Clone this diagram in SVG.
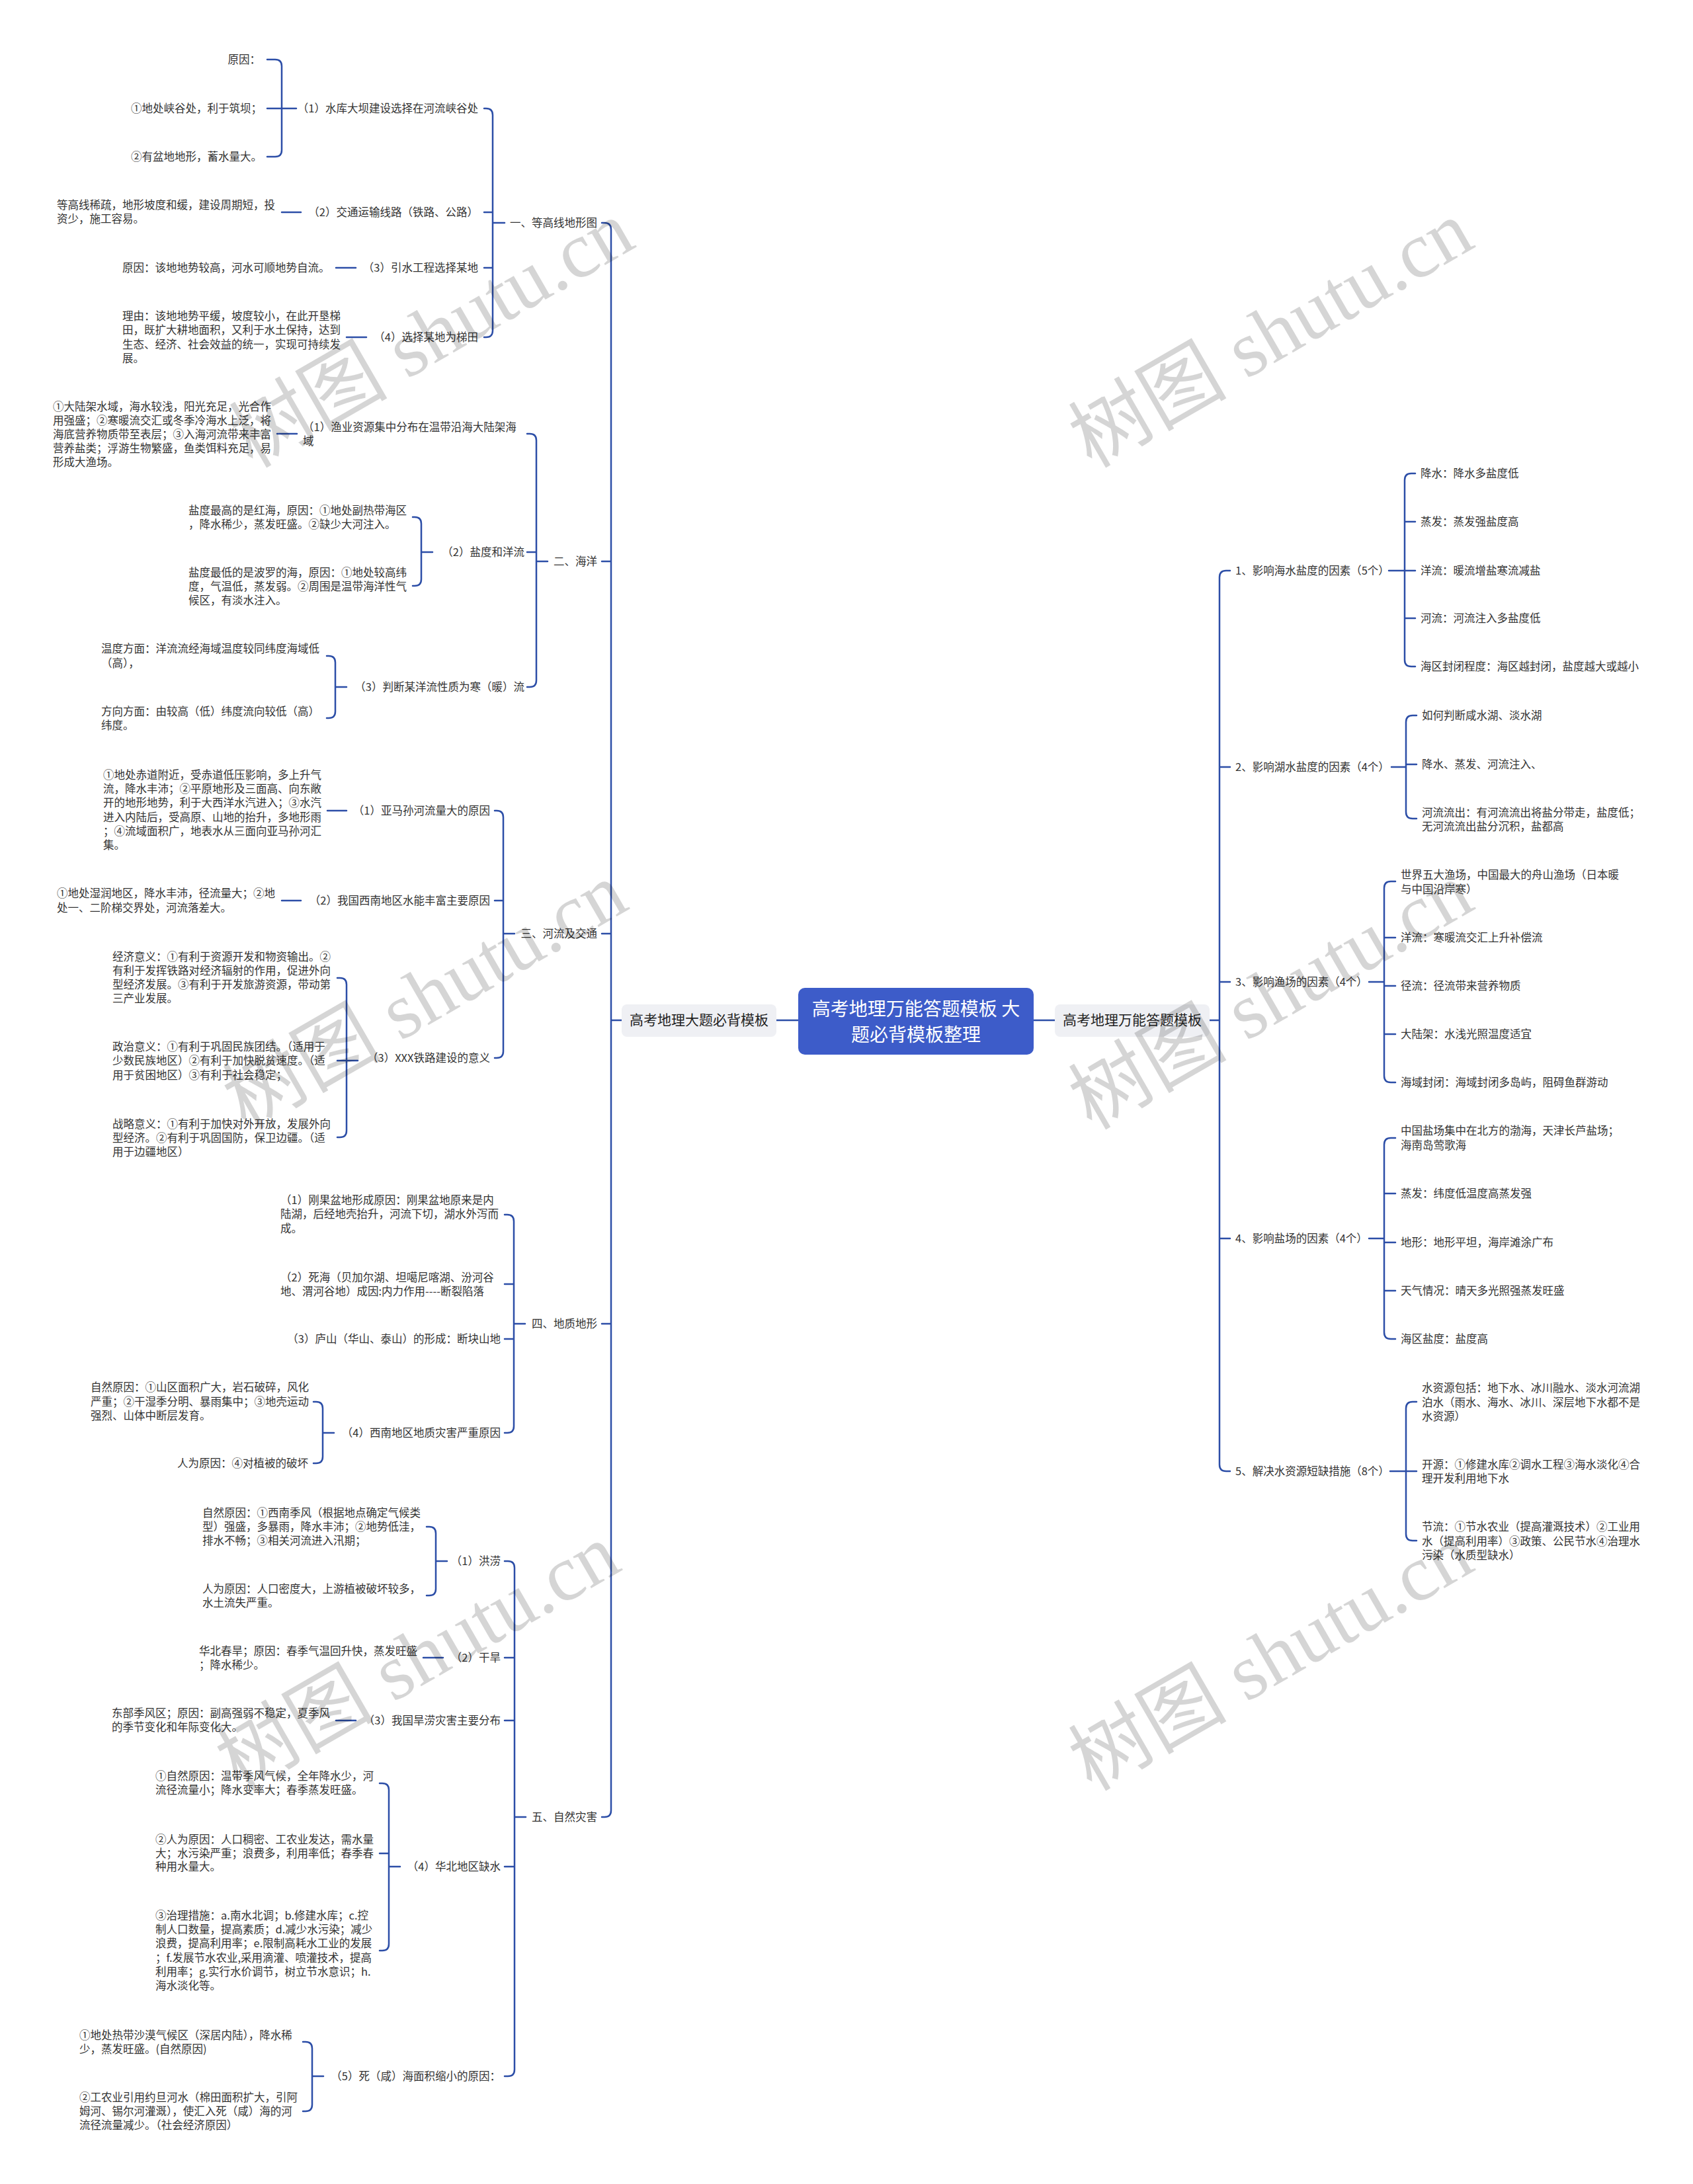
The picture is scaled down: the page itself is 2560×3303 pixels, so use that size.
<svg xmlns="http://www.w3.org/2000/svg" width="2560" height="3303" viewBox="0 0 2560 3303">
<style>
.t{font-family:"Noto Sans CJK SC","Liberation Sans",sans-serif;font-size:16.5px;fill:#333}
.e{text-anchor:end}
.l1{font-family:"Noto Sans CJK SC","Liberation Sans",sans-serif;font-size:21px;fill:#222;text-anchor:middle}
.ct{font-family:"Noto Sans CJK SC","Liberation Sans",sans-serif;font-size:28px;fill:#fff;text-anchor:middle}
.c{stroke:#2c4ea7;stroke-width:2.5;fill:none;stroke-linecap:round}
.wm{font-family:"Liberation Serif","Noto Sans CJK SC",serif;font-size:120px;fill:#000;opacity:0.16}
</style>
<rect width="2560" height="3303" fill="#fff"/>

<g id="connectors">
<!-- center to L1 -->
<path class="c" d="M1174,1543 H1207 M1563,1543 H1595"/>
<!-- main left trunk -->
<path class="c" d="M910,337 H914 Q924,337 924,347 V2738 Q924,2748 914,2748 H910 M910,849 H924 M910,1412 H924 M910,2002 H924 M924,1543 H940"/>
<!-- sec 1 -->
<path class="c" d="M732,164 H735 Q745,164 745,174 V500 Q745,510 735,510 H732 M732,321 H745 M732,405 H745 M745,337 H763"/>
<path class="c" d="M404,90 H416 Q426,90 426,100 V227 Q426,237 416,237 H404 M404,164 H448"/>
<path class="c" d="M426,321 H455 M508,405 H538 M524,510 H554"/>
<!-- sec 2 -->
<path class="c" d="M797,656 H801 Q811,656 811,666 V1029 Q811,1039 801,1039 H797 M797,835 H811 M811,849 H828"/>
<path class="c" d="M419,656 H449"/>
<path class="c" d="M624,782 H627 Q637,782 637,792 V876 Q637,886 627,886 H624 M637,835 H654"/>
<path class="c" d="M494,992 H497 Q507,992 507,1002 V1076 Q507,1086 497,1086 H494 M507,1039 H524"/>
<!-- sec 3 -->
<path class="c" d="M748,1226 H751 Q761,1226 761,1236 V1590 Q761,1600 751,1600 H748 M748,1362 H761 M761,1412 H778"/>
<path class="c" d="M495,1226 H524 M426,1362 H455"/>
<path class="c" d="M510,1479 H514 Q524,1479 524,1489 V1710 Q524,1720 514,1720 H510 M510,1604 H541"/>
<!-- sec 4 -->
<path class="c" d="M763,1837 H767 Q777,1837 777,1847 V2157 Q777,2167 767,2167 H763 M763,1942 H777 M763,2025 H777 M777,2002 H794"/>
<path class="c" d="M474,2120 H478 Q488,2120 488,2130 V2203 Q488,2213 478,2213 H474 M488,2167 H505"/>
<!-- sec 5 -->
<path class="c" d="M763,2361 H768 Q778,2361 778,2371 V3130 Q778,3140 768,3140 H763 M763,2507 H778 M763,2602 H778 M763,2823 H778 M778,2748 H795"/>
<path class="c" d="M645,2309 H649 Q659,2309 659,2319 V2403 Q659,2413 649,2413 H645 M659,2361 H676"/>
<path class="c" d="M640,2507 H670 M508,2602 H538"/>
<path class="c" d="M574,2697 H578 Q588,2697 588,2707 V2940 Q588,2950 578,2950 H574 M574,2803 H588 M588,2823 H605"/>
<path class="c" d="M458,3088 H462 Q472,3088 472,3098 V3183 Q472,3193 462,3193 H458 M472,3140 H489"/>
<!-- right main trunk -->
<path class="c" d="M1860,863 H1854 Q1844,863 1844,873 V2215 Q1844,2225 1854,2225 H1860 M1860,1160 H1844 M1860,1485 H1844 M1860,1873 H1844 M1829,1543 H1844"/>
<path class="c" d="M2140,716 H2134 Q2124,716 2124,726 V998 Q2124,1008 2134,1008 H2140 M2140,789 H2124 M2140,863 H2124 M2140,935 H2124 M2100,863 H2124"/>
<path class="c" d="M2142,1082 H2136 Q2126,1082 2126,1092 V1228 Q2126,1238 2136,1238 H2142 M2142,1156 H2126 M2104,1160 H2126"/>
<path class="c" d="M2110,1333 H2103 Q2093,1333 2093,1343 V1627 Q2093,1637 2103,1637 H2110 M2110,1418 H2093 M2110,1491 H2093 M2110,1564 H2093 M2070,1485 H2093"/>
<path class="c" d="M2110,1721 H2103 Q2093,1721 2093,1731 V2015 Q2093,2025 2103,2025 H2110 M2110,1805 H2093 M2110,1879 H2093 M2110,1952 H2093 M2070,1873 H2093"/>
<path class="c" d="M2142,2120 H2136 Q2126,2120 2126,2130 V2320 Q2126,2330 2136,2330 H2142 M2142,2225 H2126 M2102,2225 H2126"/>
</g>

<g id="center">
<rect x="1207" y="1494" width="356" height="101" rx="10" fill="#3d5cc9"/>
<text class="ct" x="1385" y="1536">高考地理万能答题模板 大</text>
<text class="ct" x="1385" y="1575">题必背模板整理</text>
</g>
<g id="L1-left">
<rect x="940" y="1519" width="234" height="49" rx="8" fill="#eff0f4"/>
<text class="l1" x="1057" y="1550">高考地理大题必背模板</text>
</g>
<g id="L1-right">
<rect x="1595" y="1519" width="234" height="49" rx="8" fill="#eff0f4"/>
<text class="l1" x="1712" y="1550">高考地理万能答题模板</text>
</g>

<!-- section 1 -->
<g id="n1"><text class="t e" x="903" y="343">一、等高线地形图</text></g>
<g id="n1-1"><text class="t e" x="723" y="170">（1）水库大坝建设选择在河流峡谷处</text></g>
<g id="n1-1a"><text class="t e" x="394" y="96">原因：</text></g>
<g id="n1-1b"><text class="t e" x="396" y="170">①地处峡谷处，利于筑坝；</text></g>
<g id="n1-1c"><text class="t e" x="396" y="243">②有盆地地形，蓄水量大。</text></g>
<g id="n1-2"><text class="t e" x="723" y="327">（2）交通运输线路（铁路、公路）</text></g>
<g id="n1-2a"><text class="t" x="86" y="316">等高线稀疏，地形坡度和缓，建设周期短，投<tspan x="86" dy="21">资少，施工容易。</tspan></text></g>
<g id="n1-3"><text class="t e" x="723" y="411">（3）引水工程选择某地</text></g>
<g id="n1-3a"><text class="t" x="185" y="411">原因：该地地势较高，河水可顺地势自流。</text></g>
<g id="n1-4"><text class="t e" x="723" y="516">（4）选择某地为梯田</text></g>
<g id="n1-4a"><text class="t" x="185" y="484">理由：该地地势平缓，坡度较小，在此开垦梯<tspan x="185" dy="21.3">田，既扩大耕地面积，又利于水土保持，达到</tspan><tspan x="185" dy="21.3">生态、经济、社会效益的统一，实现可持续发</tspan><tspan x="185" dy="21.3">展。</tspan></text></g>

<!-- section 2 -->
<g id="n2"><text class="t e" x="903" y="855">二、海洋</text></g>
<g id="n2-1"><text class="t" x="458" y="652">（1）渔业资源集中分布在温带沿海大陆架海<tspan x="458" dy="21">域</tspan></text></g>
<g id="n2-1a"><text class="t" x="80" y="621">①大陆架水域，海水较浅，阳光充足，光合作<tspan x="80" dy="21.1">用强盛；②寒暖流交汇或冬季冷海水上泛，将</tspan><tspan x="80" dy="21.1">海底营养物质带至表层；③入海河流带来丰富</tspan><tspan x="80" dy="21.1">营养盐类；浮游生物繁盛，鱼类饵料充足，易</tspan><tspan x="80" dy="21.1">形成大渔场。</tspan></text></g>
<g id="n2-2"><text class="t e" x="793" y="841">（2）盐度和洋流</text></g>
<g id="n2-2a"><text class="t" x="285" y="778">盐度最高的是红海，原因：①地处副热带海区<tspan x="285" dy="21">，降水稀少，蒸发旺盛。②缺少大河注入。</tspan></text></g>
<g id="n2-2b"><text class="t" x="285" y="872">盐度最低的是波罗的海，原因：①地处较高纬<tspan x="285" dy="21">度，气温低，蒸发弱。②周围是温带海洋性气</tspan><tspan x="285" dy="21">候区，有淡水注入。</tspan></text></g>
<g id="n2-3"><text class="t e" x="793" y="1045">（3）判断某洋流性质为寒（暖）流</text></g>
<g id="n2-3a"><text class="t" x="153" y="987">温度方面：洋流流经海域温度较同纬度海域低<tspan x="153" dy="21.5">（高），</tspan></text></g>
<g id="n2-3b"><text class="t" x="153" y="1082">方向方面：由较高（低）纬度流向较低（高）<tspan x="153" dy="21">纬度。</tspan></text></g>

<!-- section 3 -->
<g id="n3"><text class="t e" x="903" y="1418">三、河流及交通</text></g>
<g id="n3-1"><text class="t e" x="741" y="1232">（1）亚马孙河流量大的原因</text></g>
<g id="n3-1a"><text class="t" x="156" y="1178">①地处赤道附近，受赤道低压影响，多上升气<tspan x="156" dy="21.2">流，降水丰沛；②平原地形及三面高、向东敞</tspan><tspan x="156" dy="21.2">开的地形地势，利于大西洋水汽进入；③水汽</tspan><tspan x="156" dy="21.2">进入内陆后，受高原、山地的抬升，多地形雨</tspan><tspan x="156" dy="21.2">；④流域面积广，地表水从三面向亚马孙河汇</tspan><tspan x="156" dy="21.2">集。</tspan></text></g>
<g id="n3-2"><text class="t e" x="741" y="1368">（2）我国西南地区水能丰富主要原因</text></g>
<g id="n3-2a"><text class="t" x="86" y="1357">①地处湿润地区，降水丰沛，径流量大；②地<tspan x="86" dy="21.5">处一、二阶梯交界处，河流落差大。</tspan></text></g>
<g id="n3-3"><text class="t e" x="741" y="1606">（3）XXX铁路建设的意义</text></g>
<g id="n3-3a"><text class="t" x="170" y="1453">经济意义：①有利于资源开发和物资输出。②<tspan x="170" dy="21">有利于发挥铁路对经济辐射的作用，促进外向</tspan><tspan x="170" dy="21">型经济发展。③有利于开发旅游资源，带动第</tspan><tspan x="170" dy="21">三产业发展。</tspan></text></g>
<g id="n3-3b"><text class="t" x="170" y="1589">政治意义：①有利于巩固民族团结。（适用于<tspan x="170" dy="21.3">少数民族地区）②有利于加快脱贫速度。（适</tspan><tspan x="170" dy="21.3">用于贫困地区）③有利于社会稳定；</tspan></text></g>
<g id="n3-3c"><text class="t" x="170" y="1706">战略意义：①有利于加快对外开放，发展外向<tspan x="170" dy="21">型经济。②有利于巩固国防，保卫边疆。（适</tspan><tspan x="170" dy="21">用于边疆地区）</tspan></text></g>

<!-- section 4 -->
<g id="n4"><text class="t e" x="903" y="2008">四、地质地形</text></g>
<g id="n4-1"><text class="t" x="424" y="1821">（1）刚果盆地形成原因：刚果盆地原来是内<tspan x="424" dy="21.3">陆湖，后经地壳抬升，河流下切，湖水外泻而</tspan><tspan x="424" dy="21.3">成。</tspan></text></g>
<g id="n4-2"><text class="t" x="424" y="1938">（2）死海（贝加尔湖、坦噶尼喀湖、汾河谷<tspan x="424" dy="20.5">地、渭河谷地）成因:内力作用----断裂陷落</tspan></text></g>
<g id="n4-3"><text class="t e" x="757" y="2031">（3）庐山（华山、泰山）的形成：断块山地</text></g>
<g id="n4-4"><text class="t e" x="757" y="2173">（4）西南地区地质灾害严重原因</text></g>
<g id="n4-4a"><text class="t" x="137" y="2104">自然原因：①山区面积广大，岩石破碎，风化<tspan x="137" dy="21.5">严重；②干湿季分明、暴雨集中；③地壳运动</tspan><tspan x="137" dy="21.5">强烈、山体中断层发育。</tspan></text></g>
<g id="n4-4b"><text class="t e" x="466" y="2219">人为原因：④对植被的破坏</text></g>

<!-- section 5 -->
<g id="n5"><text class="t e" x="903" y="2754">五、自然灾害</text></g>
<g id="n5-1"><text class="t e" x="757" y="2367">（1）洪涝</text></g>
<g id="n5-1a"><text class="t" x="306" y="2294">自然原因：①西南季风（根据地点确定气候类<tspan x="306" dy="21">型）强盛，多暴雨，降水丰沛；②地势低洼，</tspan><tspan x="306" dy="21">排水不畅；③相关河流进入汛期；</tspan></text></g>
<g id="n5-1b"><text class="t" x="306" y="2409">人为原因：人口密度大，上游植被破坏较多，<tspan x="306" dy="21">水土流失严重。</tspan></text></g>
<g id="n5-2"><text class="t e" x="757" y="2513">（2）干旱</text></g>
<g id="n5-2a"><text class="t" x="301" y="2503">华北春旱；原因：春季气温回升快，蒸发旺盛<tspan x="301" dy="21">；降水稀少。</tspan></text></g>
<g id="n5-3"><text class="t e" x="757" y="2608">（3）我国旱涝灾害主要分布</text></g>
<g id="n5-3a"><text class="t" x="169" y="2597">东部季风区；原因：副高强弱不稳定，夏季风<tspan x="169" dy="21">的季节变化和年际变化大。</tspan></text></g>
<g id="n5-4"><text class="t e" x="757" y="2829">（4）华北地区缺水</text></g>
<g id="n5-4a"><text class="t" x="235" y="2692">①自然原因：温带季风气候，全年降水少，河<tspan x="235" dy="21">流径流量小；降水变率大；春季蒸发旺盛。</tspan></text></g>
<g id="n5-4b"><text class="t" x="235" y="2788">②人为原因：人口稠密、工农业发达，需水量<tspan x="235" dy="20.7">大；水污染严重；浪费多，利用率低；春季春</tspan><tspan x="235" dy="20.7">种用水量大。</tspan></text></g>
<g id="n5-4c"><text class="t" x="235" y="2903">③治理措施：a.南水北调；b.修建水库；c.控<tspan x="235" dy="21.2">制人口数量，提高素质；d.减少水污染；减少</tspan><tspan x="235" dy="21.2">浪费，提高利用率；e.限制高耗水工业的发展</tspan><tspan x="235" dy="21.2">；f.发展节水农业,采用滴灌、喷灌技术，提高</tspan><tspan x="235" dy="21.2">利用率；g.实行水价调节，树立节水意识；h.</tspan><tspan x="235" dy="21.2">海水淡化等。</tspan></text></g>
<g id="n5-5"><text class="t e" x="757" y="3146">（5）死（咸）海面积缩小的原因：</text></g>
<g id="n5-5a"><text class="t" x="120" y="3084">①地处热带沙漠气候区（深居内陆），降水稀<tspan x="120" dy="20.5">少，蒸发旺盛。(自然原因)</tspan></text></g>
<g id="n5-5b"><text class="t" x="120" y="3178">②工农业引用约旦河水（棉田面积扩大，引阿<tspan x="120" dy="21">姆河、锡尔河灌溉），使汇入死（咸）海的河</tspan><tspan x="120" dy="21">流径流量减少。（社会经济原因）</tspan></text></g>

<!-- right side -->
<g id="r1"><text class="t" x="1868" y="869">1、影响海水盐度的因素（5个）</text></g>
<g id="r1-a"><text class="t" x="2148" y="722">降水：降水多盐度低</text></g>
<g id="r1-b"><text class="t" x="2148" y="795">蒸发：蒸发强盐度高</text></g>
<g id="r1-c"><text class="t" x="2148" y="869">洋流：暖流增盐寒流减盐</text></g>
<g id="r1-d"><text class="t" x="2148" y="941">河流：河流注入多盐度低</text></g>
<g id="r1-e"><text class="t" x="2148" y="1014">海区封闭程度：海区越封闭，盐度越大或越小</text></g>
<g id="r2"><text class="t" x="1868" y="1166">2、影响湖水盐度的因素（4个）</text></g>
<g id="r2-a"><text class="t" x="2150" y="1088">如何判断咸水湖、淡水湖</text></g>
<g id="r2-b"><text class="t" x="2150" y="1162">降水、蒸发、河流注入、</text></g>
<g id="r2-c"><text class="t" x="2150" y="1235">河流流出：有河流流出将盐分带走，盐度低；<tspan x="2150" dy="21">无河流流出盐分沉积，盐都高</tspan></text></g>
<g id="r3"><text class="t" x="1868" y="1491">3、影响渔场的因素（4个）</text></g>
<g id="r3-a"><text class="t" x="2118" y="1329">世界五大渔场，中国最大的舟山渔场（日本暖<tspan x="2118" dy="21.5">与中国沿岸寒）</tspan></text></g>
<g id="r3-b"><text class="t" x="2118" y="1424">洋流：寒暖流交汇上升补偿流</text></g>
<g id="r3-c"><text class="t" x="2118" y="1497">径流：径流带来营养物质</text></g>
<g id="r3-d"><text class="t" x="2118" y="1570">大陆架：水浅光照温度适宜</text></g>
<g id="r3-e"><text class="t" x="2118" y="1643">海域封闭：海域封闭多岛屿，阻碍鱼群游动</text></g>
<g id="r4"><text class="t" x="1868" y="1879">4、影响盐场的因素（4个）</text></g>
<g id="r4-a"><text class="t" x="2118" y="1716">中国盐场集中在北方的渤海，天津长芦盐场；<tspan x="2118" dy="21.5">海南岛莺歌海</tspan></text></g>
<g id="r4-b"><text class="t" x="2118" y="1811">蒸发：纬度低温度高蒸发强</text></g>
<g id="r4-c"><text class="t" x="2118" y="1885">地形：地形平坦，海岸滩涂广布</text></g>
<g id="r4-d"><text class="t" x="2118" y="1958">天气情况：晴天多光照强蒸发旺盛</text></g>
<g id="r4-e"><text class="t" x="2118" y="2031">海区盐度：盐度高</text></g>
<g id="r5"><text class="t" x="1868" y="2231">5、解决水资源短缺措施（8个）</text></g>
<g id="r5-a"><text class="t" x="2150" y="2105">水资源包括：地下水、冰川融水、淡水河流湖<tspan x="2150" dy="21.5">泊水（雨水、海水、冰川、深层地下水都不是</tspan><tspan x="2150" dy="21.5">水资源）</tspan></text></g>
<g id="r5-b"><text class="t" x="2150" y="2221">开源：①修建水库②调水工程③海水淡化④合<tspan x="2150" dy="21">理开发利用地下水</tspan></text></g>
<g id="r5-c"><text class="t" x="2150" y="2315">节流：①节水农业（提高灌溉技术）②工业用<tspan x="2150" dy="21.5">水（提高利用率）③政策、公民节水④治理水</tspan><tspan x="2150" dy="21.5">污染（水质型缺水）</tspan></text></g>

<g id="watermarks">
<text class="wm" transform="translate(653,506) rotate(-30)" text-anchor="middle" y="40">树图 shutu.cn</text>
<text class="wm" transform="translate(643,1507) rotate(-30)" text-anchor="middle" y="40">树图 shutu.cn</text>
<text class="wm" transform="translate(632,2507) rotate(-30)" text-anchor="middle" y="40">树图 shutu.cn</text>
<text class="wm" transform="translate(1922,506) rotate(-30)" text-anchor="middle" y="40">树图 shutu.cn</text>
<text class="wm" transform="translate(1922,1507) rotate(-30)" text-anchor="middle" y="40">树图 shutu.cn</text>
<text class="wm" transform="translate(1922,2507) rotate(-30)" text-anchor="middle" y="40">树图 shutu.cn</text>
</g>
</svg>
